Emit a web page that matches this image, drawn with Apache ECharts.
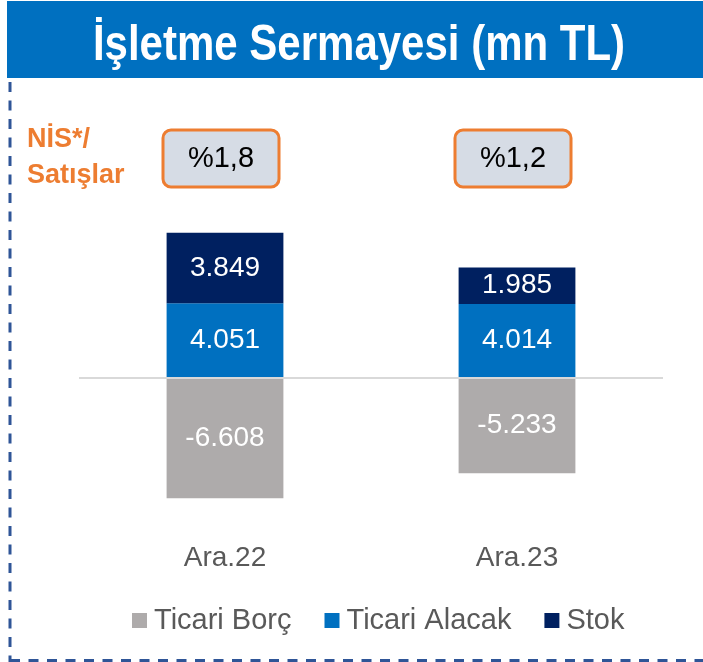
<!DOCTYPE html>
<html>
<head>
<meta charset="utf-8">
<script src="https://cdn.jsdelivr.net/npm/echarts@6/dist/echarts.min.js"></script>
<style>
html,body{margin:0;padding:0;background:#fff;}
#chart{width:703px;height:662px;}
</style>
</head>
<body>
<div id="chart"></div>
<script>
const titleText = 'İşletme Sermayesi (mn TL)';
const ratioLabel = ['NİS*/', 'Satışlar'];
const categories = ['Ara.22', 'Ara.23'];
const seriesNames = ['Ticari Borç', 'Ticari Alacak', 'Stok'];
const ticariBorc = [-6608, -5233];
const ticariAlacak = [4051, 4014];
const stok = [3849, 1985];
const nisRatios = ['%1,8', '%1,2'];
const yMin = -8000, yMax = 8000;

const FONT = "'Liberation Sans', Arial, sans-serif";
const colors = ['#AEABAB', '#0070C0', '#002060'];

function fmt(v) {
  const neg = v < 0;
  let s = String(Math.abs(v));
  s = s.replace(/\B(?=(\d{3})+(?!\d))/g, '.');
  return (neg ? '-' : '') + s;
}

const chart = echarts.init(document.getElementById('chart'), null, {renderer: 'canvas'});

function mkSeries(name, data, color, withZero) {
  const s = {
    name: name,
    type: 'bar',
    stack: 'total',
    data: data,
    barWidth: '40%',
    itemStyle: {color: color},
    label: {
      show: true,
      position: 'inside',
      color: '#fff',
      fontSize: 28,
      fontFamily: FONT,
      formatter: p => fmt(p.value)
    }
  };
  if (withZero) {
    s.markLine = {
      silent: true,
      symbol: 'none',
      label: {show: false},
      lineStyle: {color: '#D9D9D9', width: 2, type: 'solid'},
      data: [{yAxis: 0}]
    };
  }
  return s;
}

const option = {
  animation: false,
  backgroundColor: '#fff',
  textStyle: {fontFamily: FONT},
  grid: {left: 79, right: 40, top: 231, bottom: 138.2},
  legend: {
    data: seriesNames,
    left: 127,
    top: 601,
    icon: 'rect',
    itemWidth: 15,
    itemHeight: 15,
    itemGap: 33,
    textStyle: {fontSize: 29, color: '#595959', fontFamily: FONT, padding: [0, 0, 0, 2]}
  },
  xAxis: {
    type: 'category',
    data: categories,
    axisLine: {show: false},
    axisTick: {show: false},
    axisLabel: {fontSize: 28, color: '#595959', fontFamily: FONT, margin: 20}
  },
  yAxis: {
    type: 'value',
    min: yMin,
    max: yMax,
    interval: 8000,
    show: false,
    splitLine: {show: false}
  },
  series: [
    mkSeries(seriesNames[0], ticariBorc, colors[0], true),
    mkSeries(seriesNames[1], ticariAlacak, colors[1], false),
    mkSeries(seriesNames[2], stok, colors[2], false)
  ]
};
chart.setOption(option);

const graphics = [
  {type: 'rect', shape: {x: 7, y: 1, width: 696, height: 77}, style: {fill: '#0070C0'}, z: 10},
  {type: 'text', x: 359, y: 46, scaleY: 1.2, z: 11, style: {text: titleText, fill: '#fff', font: "bold 42px " + FONT, textAlign: 'center', textVerticalAlign: 'middle'}},
  {type: 'line', shape: {x1: 10, y1: 82, x2: 10, y2: 662}, style: {stroke: '#2F5597', lineWidth: 3, lineDash: [10, 8.5]}, z: 10},
  {type: 'line', shape: {x1: 10, y1: 660.5, x2: 703, y2: 660.5}, style: {stroke: '#2F5597', lineWidth: 3, lineDash: [10, 8.5]}, z: 10},
  {type: 'text', x: 27, y: 122, z: 11, style: {text: ratioLabel.join('\n'), fill: '#ED7D31', font: "bold 27px " + FONT, lineHeight: 36, textAlign: 'left', textVerticalAlign: 'top'}}
];
categories.forEach((c, i) => {
  const cx = chart.convertToPixel({xAxisIndex: 0}, c) - 4;
  graphics.push({type: 'rect', shape: {x: cx - 58, y: 130, width: 116, height: 57, r: 8}, style: {fill: '#D6DCE5', stroke: '#ED7D31', lineWidth: 3}, z: 10});
  graphics.push({type: 'text', x: cx, y: 159, z: 11, style: {text: nisRatios[i], fill: '#000', font: "29px " + FONT, textAlign: 'center', textVerticalAlign: 'middle'}});
});
chart.setOption({graphic: graphics});
</script>
</body>
</html>
